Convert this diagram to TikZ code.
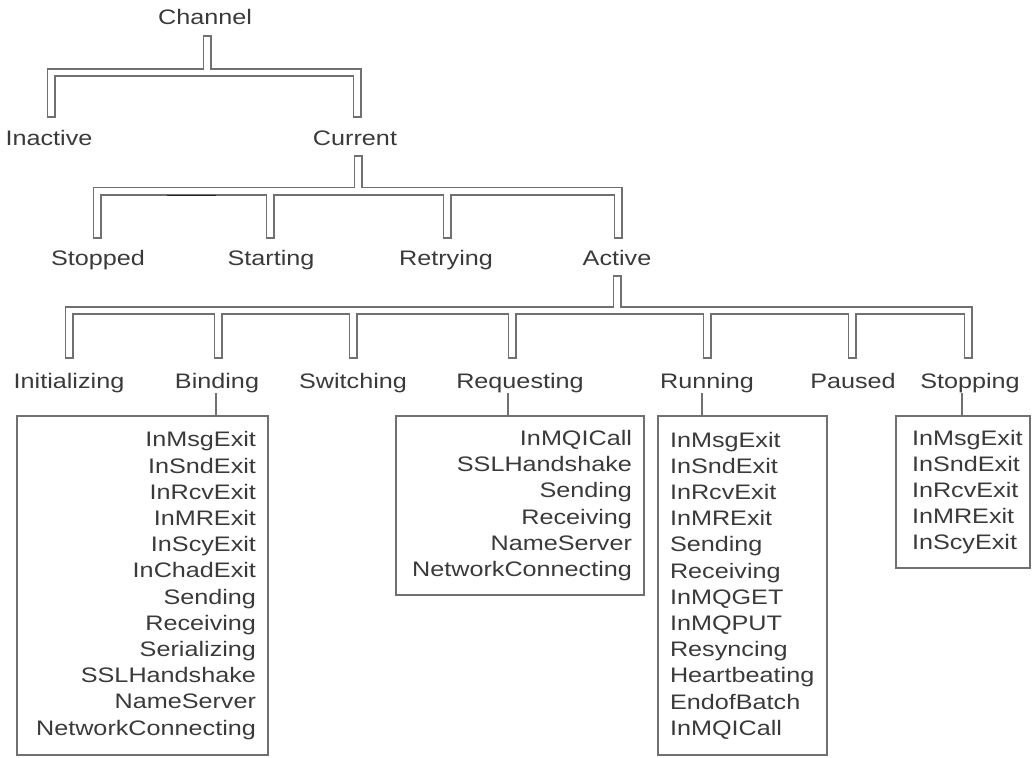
\documentclass[tikz,border=0pt]{standalone}
\usepackage{fontspec}
\setmainfont{Liberation Sans}[FakeStretch=1.2]
\usepackage{xcolor}
\usepackage{tikz}
\usetikzlibrary{positioning}
\definecolor{pipegray}{RGB}{112,112,112}
\definecolor{inkgray}{RGB}{58,58,58}
\tikzset{
  statelbl/.style={
    text=inkgray,
    font=\fontsize{21}{26.2}\selectfont,
    inner sep=0pt,
    text height=15pt,
    text depth=0pt
  },
  listbox/.style={
    draw=pipegray,
    line width=1.8pt,
    text=inkgray,
    font=\fontsize{21}{26.2}\selectfont,
    inner xsep=12pt,
    inner ysep=0pt
  },
  pipeouter/.style={draw=pipegray,line width=9pt,line join=miter},
  pipeinner/.style={draw=white,line width=5.4pt,line join=miter,
    shorten <=1.8pt,shorten >=1.8pt},
  tieline/.style={draw=pipegray,line width=1.6pt}
}

% the state tree, one layer at a time
\newcommand\statepipes[1]{%
  \foreach \kid in {inactive,current}
    \path[#1] (channel-out) |- (channel-bar -| \kid-in) -- (\kid-in);
  \foreach \kid in {stopped,starting,retrying,active}
    \path[#1] (current-out) |- (current-bar -| \kid-in) -- (\kid-in);
  \foreach \kid in {initializing,binding,switching,requesting,running,paused,stopping}
    \path[#1] (active-out) |- (active-bar -| \kid-in) -- (\kid-in);
}

\begin{document}
\begin{tikzpicture}[x=1pt,y=-1pt]
\useasboundingbox (0,0) rectangle (1032,757);

\node[statelbl] (channel) at (205,17) {Channel};
\node[statelbl] (inactive) at (49,138) {Inactive};
\node[statelbl] (current) at (355,138) {Current};
\node[statelbl] (stopped) at (98,258) {Stopped};
\node[statelbl] (starting) at (271,258) {Starting};
\node[statelbl] (retrying) at (446,258) {Retrying};
\node[statelbl] (active) at (617,258) {Active};
\node[statelbl] (initializing) at (69,381) {Initializing};
\node[statelbl] (binding) at (217,381) {Binding};
\node[statelbl] (switching) at (353,381) {Switching};
\node[statelbl] (requesting) at (520,381) {Requesting};
\node[statelbl] (running) at (707,381) {Running};
\node[statelbl] (paused) at (853,381) {Paused};
\node[statelbl] (stopping) at (970,381) {Stopping};

% pipe ends
\coordinate (channel-out) at ([xshift=2pt,yshift=-18pt]channel.center);
\coordinate (channel-bar) at ([yshift=-37.5pt]channel-out);
\foreach \kid in {inactive,current}
  \coordinate (\kid-in) at ([xshift=2pt,yshift=20pt]\kid.center);
\coordinate (current-out) at ([xshift=3pt,yshift=-17pt]current.center);
\coordinate (current-bar) at ([yshift=-36pt]current-out);
\foreach \kid/\dx in {stopped/-1,starting/-1,retrying/1,active/1}
  \coordinate (\kid-in) at ([xshift=\dx pt,yshift=19pt]\kid.center);
\coordinate (active-out) at ([yshift=-17pt]active.center);
\coordinate (active-bar) at ([yshift=-35.5pt]active-out);
\foreach \kid/\dx in {initializing/0,binding/1,switching/0,requesting/-8,running/0,paused/-1,stopping/-2}
  \coordinate (\kid-in) at ([xshift=\dx pt,yshift=22pt]\kid.center);

\statepipes{pipeouter}
\statepipes{pipeinner}
\draw[black!85,line width=1.8pt] (167,195.5) -- (216,195.5);

% sub-state lists
\node[listbox,align=right,text width=227pt,minimum height=339pt] (bindlist) at (142.5,585.5)
  {InMsgExit\\InSndExit\\InRcvExit\\InMRExit\\InScyExit\\InChadExit\\Sending\\Receiving\\Serializing\\SSLHandshake\\NameServer\\NetworkConnecting};
\node[listbox,align=right,text width=224pt,minimum height=179pt] (reqlist) at (520,505.5)
  {InMQICall\\SSLHandshake\\Sending\\Receiving\\NameServer\\NetworkConnecting};
\node[listbox,align=left,text width=145pt,minimum height=339pt] (runlist) at (742.5,585.5)
  {InMsgExit\\InSndExit\\InRcvExit\\InMRExit\\Sending\\Receiving\\InMQGET\\InMQPUT\\Resyncing\\Heartbeating\\EndofBatch\\InMQICall};
\node[listbox,align=left,inner xsep=16pt,text width=102pt,minimum height=152pt] (stoplist) at (963,492)
  {InMsgExit\\InSndExit\\InRcvExit\\InMRExit\\InScyExit};

\coordinate (binding-tie) at ([xshift=-1pt,yshift=-12pt]binding.center);
\coordinate (requesting-tie) at ([xshift=-12pt,yshift=-12pt]requesting.center);
\coordinate (running-tie) at ([xshift=-5pt,yshift=-12pt]running.center);
\coordinate (stopping-tie) at ([xshift=-8pt,yshift=-12pt]stopping.center);
\draw[tieline] (binding-tie) -- (binding-tie |- bindlist.north);
\draw[tieline] (requesting-tie) -- (requesting-tie |- reqlist.north);
\draw[tieline] (running-tie) -- (running-tie |- runlist.north);
\draw[tieline] (stopping-tie) -- (stopping-tie |- stoplist.north);
\end{tikzpicture}
\end{document}
